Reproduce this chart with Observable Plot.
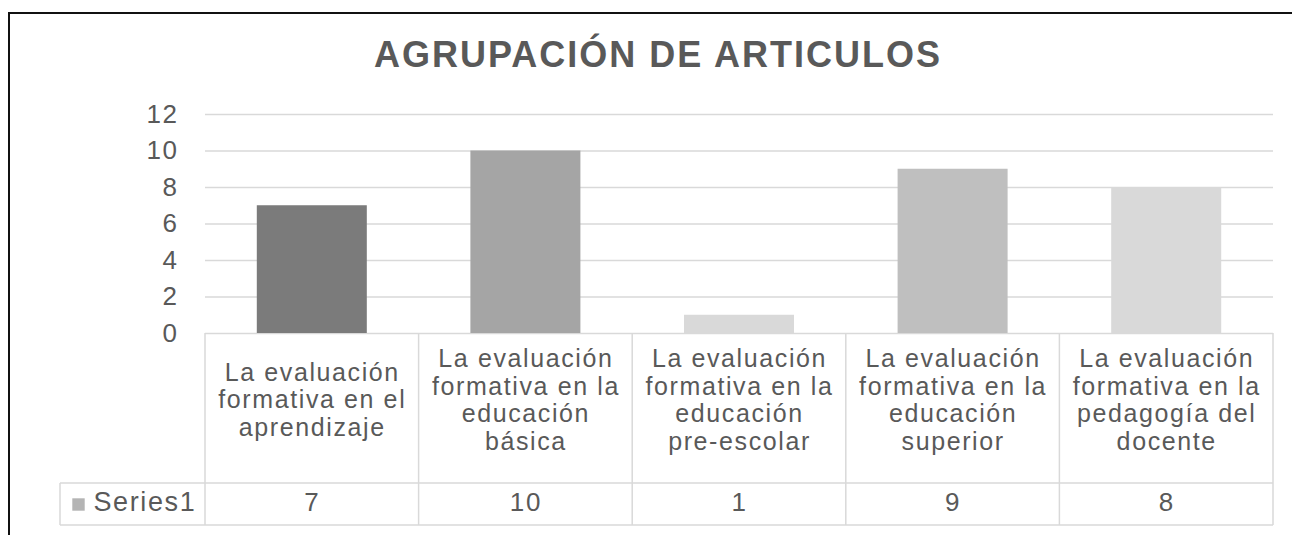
<!DOCTYPE html>
<html><head><meta charset="utf-8">
<script src="https://cdn.jsdelivr.net/npm/d3@7"></script>
<script src="https://cdn.jsdelivr.net/npm/@observablehq/plot@0.6"></script>
<style>
html,body{margin:0;padding:0;background:#fff;}
#wrap{position:relative;width:1292px;height:535px;overflow:hidden;font-family:"Liberation Sans",Arial,sans-serif;}
#frame{position:absolute;left:8px;top:12px;width:1400px;height:600px;border-top:2px solid #111;border-left:2px solid #111;}
#title{position:absolute;top:37px;left:0;width:1292px;padding-left:24px;box-sizing:border-box;text-align:center;font-size:36px;line-height:36px;font-weight:bold;letter-spacing:2px;color:#595959;white-space:nowrap;}
#chart{position:absolute;left:0;top:90px;}
#chart svg text{letter-spacing:1.6px;}
</style></head><body>
<div id="wrap"><div id="frame"></div><div id="title"></div><div id="chart"></div></div>
<script>
const titleText = "AGRUPACIÓN DE ARTICULOS";
const categories = [
  "La evaluación\nformativa en el\naprendizaje",
  "La evaluación\nformativa en la\neducación\nbásica",
  "La evaluación\nformativa en la\neducación\npre-escolar",
  "La evaluación\nformativa en la\neducación\nsuperior",
  "La evaluación\nformativa en la\npedagogía del\ndocente"
];
const values = [7, 10, 1, 9, 8];
const barColors = ["#7b7b7b", "#a5a5a5", "#d9d9d9", "#bfbfbf", "#d9d9d9"];
const seriesName = "Series1";
const legendColor = "#b4b4b4";
const yTicks = [0, 2, 4, 6, 8, 10, 12];

document.getElementById("title").textContent = titleText;

const rows = categories.map((c, i) => ({category: c, value: values[i]}));
const textColor = "#595959";
const gridColor = "#d9d9d9";

const chart = Plot.plot({
  width: 1292, height: 445,
  marginTop: 24, marginBottom: 202, marginLeft: 205, marginRight: 19,
  style: {fontFamily: '"Liberation Sans", Arial, sans-serif', fontSize: "26px", color: textColor, background: "transparent", overflow: "visible"},
  x: {domain: categories, paddingInner: 0.485, paddingOuter: 0.2425, round: false, axis: null},
  y: {domain: [0, 12], ticks: yTicks, tickSize: 0, tickPadding: 27, label: null},
  color: {domain: categories, range: barColors},
  marks: [
    Plot.gridY(yTicks, {stroke: gridColor, strokeOpacity: 1, strokeWidth: 1.3}),
    Plot.barY(rows, {x: "category", y: "value", fill: "category"}),
    Plot.text(rows, {x: "category", text: "category", frameAnchor: "bottom", dy: 66, lineAnchor: "middle", lineHeight: 1.1, fontSize: 25, fill: textColor}),
    Plot.text(rows, {x: "category", text: d => String(d.value), frameAnchor: "bottom", dy: 177, fontSize: 26, fill: textColor}),
    Plot.text([seriesName], {text: d => d, frameAnchor: "bottom-left", dx: -112, dy: 177, textAnchor: "start", fontSize: 27, fill: textColor}),
    Plot.dot([seriesName], {frameAnchor: "bottom-left", dx: -127, dy: 171, symbol: "square", r: 7, fill: legendColor, stroke: "none"})
  ]
});
document.getElementById("chart").appendChild(chart);

// wider tracking for the category labels (first text mark)
const textGroups = chart.querySelectorAll('g[aria-label="text"]');
if (textGroups.length) textGroups[0].setAttribute("style", "letter-spacing:2.4px");

// data table borders, positioned from the plot's own scales
const xs = chart.scale("x");
const ys = chart.scale("y");
const y0 = ys.apply(0);
const slotLeft = c => xs.apply(c) - (xs.step - xs.bandwidth) / 2;
const edges = categories.map(slotLeft);
edges.push(edges[edges.length - 1] + xs.step);
const headerBottom = y0 + 150;
const rowBottom = y0 + 192;
const labelLeft = 60;
const g = d3.select(chart).append("g").attr("stroke", gridColor).attr("stroke-width", 1.5).attr("fill", "none");
edges.forEach(x => g.append("line").attr("x1", x).attr("x2", x).attr("y1", y0).attr("y2", rowBottom));
g.append("line").attr("x1", labelLeft).attr("x2", labelLeft).attr("y1", headerBottom).attr("y2", rowBottom);
g.append("line").attr("x1", labelLeft).attr("x2", edges[edges.length - 1]).attr("y1", headerBottom).attr("y2", headerBottom);
g.append("line").attr("x1", labelLeft).attr("x2", edges[edges.length - 1]).attr("y1", rowBottom).attr("y2", rowBottom);
</script>
</body></html>
